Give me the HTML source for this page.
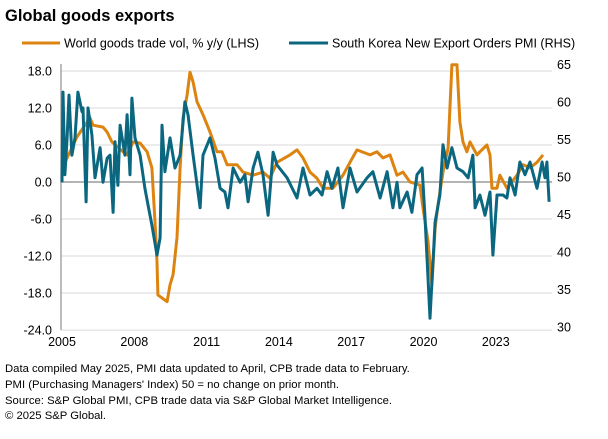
<!DOCTYPE html>
<html><head><meta charset="utf-8"><style>
body{margin:0;background:#fff;width:608px;height:439px;overflow:hidden;font-family:"Liberation Sans",Arial,sans-serif}
svg{display:block}
</style></head><body>
<svg id="chart" width="608" height="439" viewBox="0 0 608 439">
<text x="5" y="21" font-size="16.5" font-weight="bold" fill="#000">Global goods exports</text>
<g>
<line x1="22" y1="43" x2="60" y2="43" stroke="#DD8410" stroke-width="3"/>
<text x="64" y="47.5" font-size="12.5" fill="#000">World goods trade vol, % y/y (LHS)</text>
<line x1="289" y1="43" x2="328" y2="43" stroke="#0B6780" stroke-width="3"/>
<text x="332" y="47.5" font-size="12.5" fill="#000">South Korea New Export Orders PMI (RHS)</text>
</g>
<g id="grid"></g><g id="axes"></g><g id="series"></g>
<g font-size="11.3" fill="#000">
<text x="5" y="372">Data compiled May 2025, PMI data updated to April, CPB trade data to February.</text>
<text x="5" y="388">PMI (Purchasing Managers' Index) 50 = no change on prior month.</text>
<text x="5" y="404">Source: S&amp;P Global PMI, CPB trade data via S&amp;P Global Market Intelligence.</text>
<text x="5" y="419">© 2025 S&amp;P Global.</text>
</g>
</svg>
<script>
const leftTicks=[18,12,6,0,-6,-12,-18,-24];
const leftTickLabels=["18.0","12.0","6.0","0.0","-6.0","-12.0","-18.0","-24.0"];
const rightTicks=[65,60,55,50,45,40,35,30];
const xTicks=[2005,2008,2011,2014,2017,2020,2023];
const tradeDates=[2005.04,2005.62,2006.16,2006.29,2006.70,2006.87,2007.07,2007.53,2007.70,2007.95,2008.24,2008.53,2008.73,2008.86,2008.94,2008.98,2009.36,2009.48,2009.61,2009.77,2009.90,2010.02,2010.19,2010.31,2010.44,2010.60,2010.85,2011.14,2011.43,2011.64,2011.85,2012.26,2012.51,2012.93,2013.34,2013.63,2013.92,2014.46,2014.75,2015.00,2015.29,2015.58,2015.83,2016.24,2016.66,2016.95,2017.24,2017.78,2018.07,2018.32,2018.61,2018.90,2019.15,2019.44,2019.85,2019.98,2020.19,2020.35,2020.48,2020.60,2020.81,2021.02,2021.18,2021.39,2021.51,2021.64,2021.80,2021.93,2022.22,2022.34,2022.63,2022.76,2022.84,2023.05,2023.17,2023.46,2023.88,2024.13,2024.42,2024.71,2024.96];
const tradeValues=[2.5,7.3,10.4,9.2,8.9,8.1,6.5,4.9,4.4,6.5,6.3,4.9,2.3,-6.5,-13,-18.3,-19.4,-16.7,-15,-9,2.3,10.4,14.1,17.8,16.2,13,10.9,8.1,4.9,4.9,2.8,2.8,1.6,1.1,1.6,0.6,3.2,4.4,5.2,3.9,1.6,0.6,-1,-1,1.1,3.2,5.2,4.4,4.9,3.9,4.4,1.1,1.6,0,-0.5,-4.2,-9.7,-16.7,-7.5,-3.7,1.6,5.5,19,19,9.7,6.5,4.9,6.5,4.4,4.9,6,4.4,-1,-1,1.1,-1,1.1,2.8,2.3,3.2,4.4];
const pmiDates=[2005.00,2005.04,2005.12,2005.21,2005.29,2005.41,2005.54,2005.66,2005.83,2005.87,2006.00,2006.08,2006.24,2006.37,2006.58,2006.70,2006.87,2006.99,2007.12,2007.20,2007.32,2007.41,2007.61,2007.70,2007.82,2007.90,2008.03,2008.24,2008.44,2008.57,2008.73,2008.94,2009.07,2009.15,2009.27,2009.48,2009.69,2009.90,2010.10,2010.23,2010.44,2010.73,2010.85,2011.14,2011.35,2011.56,2011.76,2011.89,2012.10,2012.39,2012.59,2012.72,2012.93,2013.13,2013.34,2013.55,2013.76,2013.92,2014.34,2014.75,2015.00,2015.29,2015.58,2015.79,2016.00,2016.20,2016.45,2016.66,2016.95,2017.24,2017.66,2017.90,2018.20,2018.49,2018.73,2018.90,2019.02,2019.32,2019.52,2019.73,2019.94,2020.06,2020.27,2020.48,2020.68,2020.81,2020.98,2021.18,2021.39,2021.64,2021.85,2022.05,2022.14,2022.34,2022.55,2022.76,2022.88,2023.05,2023.30,2023.46,2023.59,2023.80,2024.00,2024.21,2024.42,2024.71,2024.92,2025.04,2025.12,2025.21];
const pmiValues=[49.3,61.3,50.3,55.2,60.9,52.9,55.2,61.3,58.7,59.2,46.7,59.2,55.6,49.9,53.9,49.3,52.5,52.9,45.3,54.7,48.9,56.9,52.9,58.3,50.3,60.5,55.2,52.9,48.5,46.3,43.6,39.6,41.9,56.9,50.7,55.2,51.2,52.9,60,58.3,52.9,45.9,52.9,55.2,52.5,48.5,48,45.9,51.2,49.3,50.3,46.7,51.2,53.3,50.3,44.9,53.3,51.6,49.9,47.2,51.2,47.6,48.5,47.6,50.7,48.5,51.2,45.9,51.2,48,49.9,50.7,47.2,50.7,45.9,49.3,45.9,48,45.3,50.3,51.2,44.9,31.2,44,47.6,54.3,51.2,53.9,51.2,50.7,49.9,52.9,45.9,47.6,44.9,48,39.6,47.6,47.6,47.2,49.9,47.6,52,50.3,52,48.5,52,49.9,52,46.7];

const NS="http://www.w3.org/2000/svg";
const X0=61,X1=552;
function xs(y){return 62+(y-2005)*24.1;}
function yl(v){return 182-v*6.17;}
function yr(v){return 177-(v-50)*7.51;}
function mk(tag,attrs,parent){const e=document.createElementNS(NS,tag);for(const k in attrs)e.setAttribute(k,attrs[k]);parent.appendChild(e);return e;}
const grid=document.getElementById('grid'),axes=document.getElementById('axes'),series=document.getElementById('series');
leftTicks.forEach((v,i)=>{
  const g=mk('line',{x1:X0,x2:X1,y1:yl(v),y2:yl(v),stroke:v===0?'#888':'#d9d9d9','stroke-width':v===0?1.3:1},grid);
  
  
  const t=mk('text',{x:52,y:yl(v)+4.5,'text-anchor':'end','font-size':12.5,fill:'#000'},axes);
  t.textContent=leftTickLabels[i];
  
  
});
rightTicks.forEach(v=>{
  const t=mk('text',{x:557,y:yr(v)+4.5,'font-size':12.5,fill:'#000'},axes);
  t.textContent=String(v);
  
  
});
xTicks.forEach(v=>{
  const t=mk('text',{x:xs(v),y:346,'text-anchor':'middle','font-size':12.5,fill:'#000'},axes);
  t.textContent=String(v);
  
  
});
const ya=mk('line',{x1:X0,x2:X0,y1:64,y2:330,stroke:'#999','stroke-width':1.3},axes);


function path(dates,vals,fy,color,name){
  const d=dates.map((t,i)=>(i?'L':'M')+xs(t).toFixed(1)+' '+fy(vals[i]).toFixed(1)).join(' ');
  const p=mk('path',{d:d,fill:'none',stroke:color,'stroke-width':3,'stroke-linejoin':'round'},series);
  
  
}
path(tradeDates,tradeValues,yl,'#DD8410','world-trade-line');
path(pmiDates,pmiValues,yr,'#0B6780','korea-pmi-line');
</script>
</body></html>
